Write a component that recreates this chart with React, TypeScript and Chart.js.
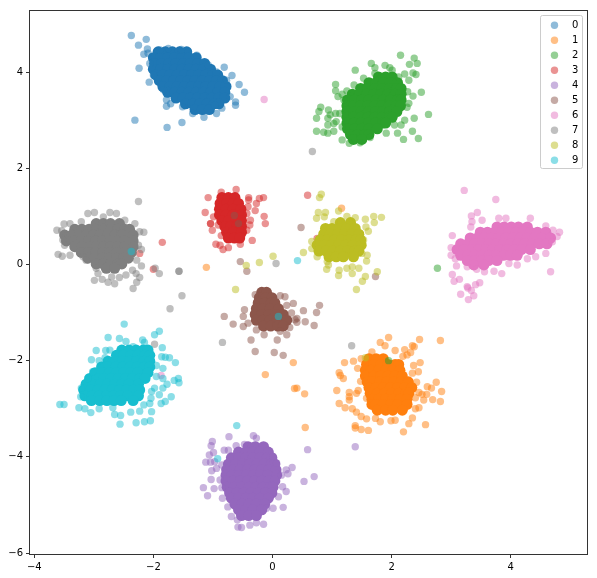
import React, { useEffect, useRef } from "react";
import { Chart, registerables } from "chart.js";

Chart.register(...registerables);

const labels = ["0", "1", "2", "3", "4", "5", "6", "7", "8", "9"];
const colors = ["31,119,180", "255,127,14", "44,160,44", "214,39,40", "148,103,189", "140,86,75", "227,119,194", "127,127,127", "188,189,34", "23,190,207"];
const xTicks = [-4, -2, 0, 2, 4];
const yTicks = [-6, -4, -2, 0, 2, 4];

type P = number[];

const core0: P[] = [
[-1.92,4.42],[-1.80,4.42],[-1.68,4.42],[-1.56,4.42],[-1.44,4.42],
[-2.00,4.30],[-1.88,4.30],[-1.76,4.30],[-1.64,4.30],[-1.52,4.30],[-1.40,4.30],[-1.28,4.30],
[-1.98,4.18],[-1.86,4.18],[-1.74,4.18],[-1.62,4.18],[-1.50,4.18],[-1.38,4.18],[-1.26,4.18],[-1.14,4.18],
[-2.00,4.06],[-1.88,4.06],[-1.76,4.06],[-1.64,4.06],[-1.52,4.06],[-1.40,4.06],[-1.28,4.06],[-1.16,4.06],[-1.04,4.06],
[-1.96,3.94],[-1.84,3.94],[-1.72,3.94],[-1.60,3.94],[-1.48,3.94],[-1.36,3.94],[-1.24,3.94],[-1.12,3.94],[-1.00,3.94],[-0.92,3.94],
[-1.90,3.82],[-1.78,3.82],[-1.66,3.82],[-1.54,3.82],[-1.42,3.82],[-1.30,3.82],[-1.18,3.82],[-1.06,3.82],[-0.94,3.82],[-0.84,3.82],
[-1.84,3.70],[-1.72,3.70],[-1.60,3.70],[-1.48,3.70],[-1.36,3.70],[-1.24,3.70],[-1.12,3.70],[-1.00,3.70],[-0.88,3.70],[-0.78,3.70],
[-1.76,3.58],[-1.64,3.58],[-1.52,3.58],[-1.40,3.58],[-1.28,3.58],[-1.16,3.58],[-1.04,3.58],[-0.92,3.58],[-0.80,3.58],
[-1.62,3.46],[-1.50,3.46],[-1.38,3.46],[-1.26,3.46],[-1.14,3.46],[-1.02,3.46],[-0.90,3.46],[-0.80,3.46],
[-1.46,3.34],[-1.34,3.34],[-1.22,3.34],[-1.10,3.34],[-0.98,3.34],[-0.90,3.34],
[-1.30,3.22],[-1.18,3.22],[-1.06,3.22]];
const edge0: P[] = [[-2.37,4.76],[-2.12,4.68],[-2.25,4.56],[-2.10,4.48],[-2.16,4.37],[-2.09,4.39],[-2.24,4.08],[-2.07,3.79],[-2.31,3.0],[-1.77,2.85],[-1.52,2.95],[-1.15,3.06],[-0.94,3.14],[-1.34,3.14],[-0.81,4.10],[-0.68,3.93],[-0.56,3.74],[-0.47,3.58],[-0.62,3.38],[-0.62,3.31],[-0.71,3.49],[-0.85,3.25],[-0.97,3.31],[-1.78,3.42],[-1.78,3.29],[-1.71,3.34],[-1.51,3.28],[-1.83,3.63],[-0.77,3.83],[-0.94,4.0],[-1.75,4.49],[-1.89,4.46],[-1.53,4.47],[-1.27,4.35],[-1.08,4.15],[-2.0,3.94],[-2.06,4.18]];

const core1: P[] = [
[1.62,-1.96],[1.74,-1.96],[1.86,-1.96],
[1.58,-2.08],[1.70,-2.08],[1.82,-2.08],[1.94,-2.08],[2.06,-2.08],[2.12,-2.08],
[1.56,-2.20],[1.66,-2.20],[1.78,-2.20],[1.90,-2.20],[2.02,-2.20],[2.14,-2.20],
[1.56,-2.32],[1.70,-2.32],[1.82,-2.32],[1.94,-2.32],[2.06,-2.32],[2.18,-2.32],
[1.59,-2.44],[1.68,-2.44],[1.80,-2.44],[1.92,-2.44],[2.04,-2.44],[2.16,-2.44],[2.28,-2.44],
[1.62,-2.56],[1.74,-2.56],[1.86,-2.56],[1.98,-2.56],[2.10,-2.56],[2.22,-2.56],[2.34,-2.56],
[1.64,-2.68],[1.76,-2.68],[1.88,-2.68],[2.00,-2.68],[2.12,-2.68],[2.24,-2.68],[2.29,-2.68],
[1.67,-2.80],[1.78,-2.80],[1.90,-2.80],[2.02,-2.80],[2.14,-2.80],[2.26,-2.80],
[1.67,-2.91],[1.74,-2.91],[1.86,-2.91],[1.98,-2.91],[2.10,-2.91],[2.26,-2.91],
[1.76,-3.03],[1.90,-3.03],[2.02,-3.03],[2.18,-3.03]];
const edge1: P[] = [[1.95,-1.52],[2.47,-1.56],[2.82,-1.58],[1.81,-1.62],[1.89,-1.69],[2.35,-1.69],[2.38,-1.71],[2.06,-1.79],[2.22,-1.77],[2.32,-1.83],[2.26,-1.88],[2.19,-1.91],[1.67,-1.82],[1.49,-1.96],[1.36,-2.01],[1.21,-2.04],[1.43,-2.16],[2.48,-2.04],[2.37,-2.10],[2.45,-2.23],[2.35,-2.26],[1.12,-2.25],[1.14,-2.31],[1.19,-2.37],[1.48,-2.43],[2.42,-2.45],[2.75,-2.45],[2.60,-2.54],[2.67,-2.57],[2.84,-2.64],[2.46,-2.66],[2.51,-2.70],[2.59,-2.70],[2.40,-2.77],[2.54,-2.82],[2.69,-2.81],[2.82,-2.85],[1.08,-2.62],[1.44,-2.62],[1.41,-2.68],[1.29,-2.66],[1.29,-2.75],[1.29,-2.82],[1.12,-2.89],[1.22,-2.98],[1.34,-3.0],[1.41,-3.07],[1.49,-3.16],[1.58,-3.21],[1.73,-3.20],[1.81,-3.27],[1.99,-3.25],[2.06,-3.24],[2.35,-3.19],[2.29,-3.31],[2.57,-3.33],[2.20,-3.48],[1.39,-3.35],[1.39,-3.40],[1.49,-3.43],[1.61,-3.45],[2.40,-3.0],[2.46,-2.98],[1.58,-2.78],[0.54,-2.69],[0.55,-3.39],[0.41,-2.57],[0.35,-2.04],[-0.12,-2.29],[0.37,-2.58],[1.16,1.17],[-1.11,-0.06],[-2.52,-0.01]];

const core2: P[] = [
[1.78,3.90],[1.90,3.90],[2.01,3.90],
[1.62,3.78],[1.74,3.78],[1.86,3.78],[1.98,3.78],[2.10,3.78],
[1.48,3.66],[1.60,3.66],[1.72,3.66],[1.84,3.66],[1.96,3.66],[2.08,3.66],[2.16,3.66],
[1.34,3.54],[1.46,3.54],[1.58,3.54],[1.70,3.54],[1.82,3.54],[1.94,3.54],[2.06,3.54],[2.16,3.54],
[1.26,3.42],[1.38,3.42],[1.50,3.42],[1.62,3.42],[1.74,3.42],[1.86,3.42],[1.98,3.42],[2.10,3.42],[2.16,3.42],
[1.25,3.30],[1.36,3.30],[1.48,3.30],[1.60,3.30],[1.72,3.30],[1.84,3.30],[1.96,3.30],[2.08,3.30],[2.15,3.30],
[1.25,3.18],[1.37,3.18],[1.49,3.18],[1.61,3.18],[1.73,3.18],[1.85,3.18],[1.97,3.18],[2.09,3.18],
[1.25,3.06],[1.36,3.06],[1.48,3.06],[1.60,3.06],[1.72,3.06],[1.84,3.06],[1.96,3.06],[2.01,3.06],
[1.25,2.94],[1.37,2.94],[1.49,2.94],[1.61,2.94],[1.73,2.94],[1.85,2.94],[1.90,2.94],
[1.26,2.82],[1.38,2.82],[1.50,2.82],[1.62,2.82],[1.76,2.82],
[1.31,2.70],[1.43,2.70],[1.55,2.70],[1.62,2.70],
[1.36,2.60],[1.50,2.60]];
const edge2: P[] = [[2.15,4.35],[2.38,4.29],[2.43,4.18],[2.30,4.16],[1.66,4.18],[1.72,4.09],[1.39,4.04],[1.72,3.97],[1.89,4.14],[1.97,4.09],[2.01,4.04],[2.36,3.98],[2.41,3.95],[2.22,3.96],[2.29,3.83],[2.12,3.90],[1.53,3.87],[1.06,3.74],[1.06,3.61],[1.10,3.49],[1.17,3.54],[1.25,3.61],[1.37,3.73],[2.50,3.58],[2.36,3.50],[2.27,3.59],[2.29,3.35],[2.26,3.27],[2.62,3.12],[2.38,3.04],[2.22,3.0],[2.16,2.90],[2.05,2.90],[2.10,2.73],[2.35,2.77],[2.20,2.60],[2.45,2.62],[1.91,2.73],[0.81,3.27],[0.78,3.18],[0.74,3.04],[0.94,3.21],[0.97,3.11],[0.93,3.04],[1.06,3.14],[1.13,3.14],[0.93,2.90],[1.03,2.93],[1.07,2.97],[0.74,2.77],[0.86,2.75],[0.93,2.73],[1.03,2.77],[1.17,2.59],[1.29,2.52],[1.47,2.53],[1.64,2.64],[1.17,2.86],[1.20,3.42],[1.95,-2.0],[2.77,-0.08]];

const core3: P[] = [
[-0.85,1.39],[-0.74,1.39],[-0.63,1.39],
[-0.88,1.27],[-0.77,1.27],[-0.66,1.27],[-0.57,1.27],
[-0.89,1.15],[-0.78,1.15],[-0.66,1.15],[-0.53,1.15],
[-0.89,1.03],[-0.78,1.03],[-0.66,1.03],[-0.52,1.03],
[-0.85,0.91],[-0.74,0.91],[-0.62,0.91],[-0.52,0.91],
[-0.80,0.79],[-0.70,0.79],[-0.60,0.79],[-0.52,0.79],
[-0.77,0.67],[-0.66,0.67],[-0.52,0.67],
[-0.74,0.55],[-0.64,0.55],[-0.55,0.55]];
const edge3: P[] = [[-0.61,1.56],[-0.86,1.50],[-1.08,1.39],[-0.40,1.39],[-0.40,1.34],[-0.22,1.37],[-0.15,1.39],[-0.27,1.27],[-0.41,1.20],[-0.29,1.12],[-0.43,1.06],[-0.14,1.0],[-0.12,0.85],[-0.37,0.92],[-0.38,0.82],[-0.43,0.71],[-0.34,0.50],[-0.54,0.42],[-0.74,0.35],[-0.83,0.31],[-0.88,0.40],[-0.95,0.42],[-0.86,0.60],[-1.01,0.71],[-1.04,0.85],[-1.04,0.85],[-0.91,0.82],[-1.13,1.08],[-0.99,0.99],[-1.85,0.46],[-2.0,-0.10],[-2.23,0.23],[0.59,1.44],[0.75,0.54]];

const core4: P[] = [
[-0.41,-3.79],[-0.29,-3.79],[-0.15,-3.79],
[-0.57,-3.90],[-0.45,-3.90],[-0.33,-3.90],[-0.21,-3.90],[-0.07,-3.90],
[-0.69,-4.02],[-0.57,-4.02],[-0.45,-4.02],[-0.33,-4.02],[-0.21,-4.02],[-0.09,-4.02],[-0.01,-4.02],
[-0.74,-4.15],[-0.62,-4.15],[-0.50,-4.15],[-0.38,-4.15],[-0.26,-4.15],[-0.14,-4.15],[-0.02,-4.15],[0.04,-4.15],
[-0.77,-4.27],[-0.66,-4.27],[-0.54,-4.27],[-0.42,-4.27],[-0.30,-4.27],[-0.18,-4.27],[-0.06,-4.27],[0.06,-4.27],
[-0.78,-4.38],[-0.68,-4.38],[-0.56,-4.38],[-0.44,-4.38],[-0.32,-4.38],[-0.20,-4.38],[-0.08,-4.38],[0.07,-4.38],
[-0.78,-4.50],[-0.66,-4.50],[-0.54,-4.50],[-0.42,-4.50],[-0.30,-4.50],[-0.18,-4.50],[-0.06,-4.50],[0.04,-4.50],
[-0.76,-4.63],[-0.64,-4.63],[-0.52,-4.63],[-0.40,-4.63],[-0.28,-4.63],[-0.16,-4.63],[-0.04,-4.63],[0.01,-4.63],
[-0.72,-4.75],[-0.60,-4.75],[-0.48,-4.75],[-0.36,-4.75],[-0.24,-4.75],[-0.12,-4.75],[-0.01,-4.75],
[-0.69,-4.86],[-0.57,-4.86],[-0.45,-4.86],[-0.33,-4.86],[-0.21,-4.86],[-0.07,-4.86],
[-0.63,-4.98],[-0.51,-4.98],[-0.39,-4.98],[-0.27,-4.98],[-0.13,-4.98],
[-0.57,-5.10],[-0.45,-5.10],[-0.33,-5.10],[-0.18,-5.10],
[-0.52,-5.22],[-0.40,-5.22],[-0.27,-5.22]];
const edge4: P[] = [[-0.32,-3.56],[-0.27,-3.61],[-0.73,-3.58],[-1.01,-3.68],[-1.03,-3.77],[-0.81,-3.86],[-0.74,-3.86],[-0.61,-3.77],[-0.47,-3.74],[-1.06,-3.96],[-0.99,-3.91],[-1.12,-4.11],[-1.04,-4.11],[-0.97,-4.10],[-1.02,-4.29],[-0.94,-4.24],[-0.85,-4.17],[-1.03,-4.47],[-0.88,-4.48],[-1.16,-4.64],[-0.98,-4.66],[-0.85,-4.64],[-1.09,-4.81],[-0.84,-4.86],[-0.75,-5.04],[-0.69,-5.24],[-0.59,-5.31],[-0.58,-5.46],[-0.52,-5.47],[-0.38,-5.42],[-0.27,-5.37],[-0.15,-5.40],[-0.10,-5.07],[0.18,-5.05],[0.01,-5.07],[0.17,-4.62],[0.23,-4.72],[0.10,-4.83],[0.01,-3.99],[0.07,-4.13],[0.23,-4.27],[0.26,-4.35],[0.33,-4.22],[0.15,-4.38],[0.59,-3.85],[1.39,-3.79],[0.53,-4.51],[0.70,-4.41]];

const core5: P[] = [
[-0.18,-0.58],[-0.10,-0.58],
[-0.22,-0.69],[-0.11,-0.69],[-0.01,-0.69],
[-0.24,-0.80],[-0.13,-0.80],[-0.02,-0.80],[0.04,-0.80],
[-0.27,-0.92],[-0.16,-0.92],[-0.04,-0.92],[0.10,-0.92],
[-0.29,-1.04],[-0.18,-1.04],[-0.06,-1.04],[0.06,-1.04],[0.18,-1.04],
[-0.27,-1.16],[-0.16,-1.16],[-0.04,-1.16],[0.08,-1.16],[0.24,-1.16],
[-0.15,-1.28],[-0.03,-1.28],[0.09,-1.28],[0.18,-1.28]];
const edge5: P[] = [[-0.29,-0.63],[0.13,-0.65],[0.21,-0.67],[0.35,-0.81],[0.24,-0.85],[-0.47,-0.94],[-0.49,-1.08],[-0.81,-1.08],[-0.66,-1.24],[-0.49,-1.29],[-0.41,-1.22],[-0.36,-1.57],[0.08,-1.57],[-0.29,-1.81],[0.03,-1.83],[0.18,-1.89],[-0.14,-1.46],[-0.27,-1.36],[0.24,-1.46],[0.13,-1.39],[0.32,-1.01],[0.38,-1.15],[0.29,-1.31],[0.79,-0.85],[0.52,-0.96],[0.74,-1.0],[0.55,-1.19],[0.41,-1.12],[0.41,-1.20],[0.70,-1.27],[-0.54,0.06],[-0.43,-0.14],[0.48,0.77],[1.73,-0.25],[-0.64,1.02],[-0.57,0.85]];

const core6: P[] = [
[3.77,0.78],[3.89,0.78],[4.01,0.78],[4.13,0.78],[4.28,0.78],
[3.49,0.67],[3.61,0.67],[3.73,0.67],[3.85,0.67],[3.97,0.67],[4.09,0.67],[4.21,0.67],[4.33,0.67],[4.45,0.67],[4.59,0.67],
[3.32,0.55],[3.44,0.55],[3.56,0.55],[3.68,0.55],[3.80,0.55],[3.92,0.55],[4.04,0.55],[4.16,0.55],[4.28,0.55],[4.40,0.55],[4.52,0.55],[4.67,0.55],
[3.16,0.43],[3.28,0.43],[3.40,0.43],[3.52,0.43],[3.64,0.43],[3.76,0.43],[3.88,0.43],[4.00,0.43],[4.12,0.43],[4.24,0.43],[4.36,0.43],[4.48,0.43],[4.61,0.43],
[3.10,0.31],[3.22,0.31],[3.34,0.31],[3.46,0.31],[3.58,0.31],[3.70,0.31],[3.82,0.31],[3.94,0.31],[4.06,0.31],[4.18,0.31],[4.33,0.31],
[3.16,0.19],[3.28,0.19],[3.40,0.19],[3.52,0.19],[3.64,0.19],[3.76,0.19],[3.88,0.19],[4.00,0.19],[4.11,0.19],
[3.27,0.08],[3.39,0.08],[3.51,0.08],[3.63,0.08],[3.77,0.08],
[3.38,-0.01],[3.55,-0.01]];
const edge6: P[] = [[3.22,1.54],[3.75,1.35],[3.44,1.08],[3.34,1.01],[3.35,0.89],[3.52,0.92],[3.80,0.96],[3.92,0.96],[4.33,0.96],[3.33,0.78],[4.59,0.80],[4.71,0.71],[4.82,0.67],[4.78,0.58],[4.70,0.47],[3.02,0.60],[3.0,0.35],[3.0,0.19],[3.07,0.12],[3.09,-0.03],[3.27,-0.05],[4.59,0.23],[4.42,0.16],[4.28,0.12],[4.11,-0.01],[3.97,0.02],[3.85,-0.19],[3.72,-0.14],[3.56,-0.15],[3.43,-0.10],[4.67,-0.15],[3.02,-0.21],[3.14,-0.31],[3.05,-0.35],[3.27,-0.46],[3.41,-0.42],[3.48,-0.38],[3.16,-0.62],[3.29,-0.73],[3.38,-0.65],[3.34,-0.54],[3.28,-0.49],[-0.14,3.43],[-1.87,-2.31]];

const core7: P[] = [
[-2.96,0.85],[-2.84,0.85],[-2.72,0.85],[-2.57,0.85],
[-3.32,0.73],[-3.20,0.73],[-3.08,0.73],[-2.96,0.73],[-2.84,0.73],[-2.72,0.73],[-2.60,0.73],[-2.48,0.73],[-2.40,0.73],
[-3.49,0.61],[-3.37,0.61],[-3.25,0.61],[-3.13,0.61],[-3.01,0.61],[-2.89,0.61],[-2.77,0.61],[-2.65,0.61],[-2.53,0.61],[-2.41,0.61],[-2.34,0.61],
[-3.46,0.49],[-3.33,0.49],[-3.21,0.49],[-3.09,0.49],[-2.97,0.49],[-2.85,0.49],[-2.73,0.49],[-2.61,0.49],[-2.49,0.49],[-2.34,0.49],
[-3.32,0.37],[-3.20,0.37],[-3.08,0.37],[-2.96,0.37],[-2.84,0.37],[-2.72,0.37],[-2.60,0.37],[-2.48,0.37],[-2.34,0.37],
[-3.21,0.25],[-3.09,0.25],[-2.97,0.25],[-2.85,0.25],[-2.73,0.25],[-2.61,0.25],[-2.49,0.25],[-2.37,0.25],
[-3.10,0.13],[-2.98,0.13],[-2.86,0.13],[-2.74,0.13],[-2.62,0.13],[-2.50,0.13],[-2.42,0.13],
[-2.96,0.01],[-2.84,0.01],[-2.72,0.01],[-2.60,0.01],[-2.53,0.01],
[-2.79,-0.08],[-2.65,-0.08]];
const edge7: P[] = [[-2.25,1.31],[-3.10,1.06],[-2.99,1.08],[-2.73,1.08],[-2.62,1.06],[-2.84,0.99],[-2.48,0.92],[-2.31,0.85],[-3.50,0.84],[-3.40,0.85],[-3.21,0.89],[-3.62,0.71],[-3.54,0.70],[-2.23,0.68],[-2.16,0.67],[-3.52,0.51],[-3.49,0.40],[-3.60,0.21],[-3.53,0.17],[-3.40,0.19],[-3.18,0.16],[-3.13,0.09],[-2.20,0.31],[-2.25,0.40],[-2.20,-0.03],[-2.28,0.09],[-2.29,-0.19],[-2.23,-0.27],[-2.35,-0.12],[-2.46,-0.22],[-2.57,-0.27],[-2.65,-0.40],[-2.76,-0.37],[-2.86,-0.31],[-2.99,-0.33],[-2.93,-0.19],[-2.96,-0.08],[-2.70,-0.26],[-2.28,-0.37],[-2.34,-0.50],[-1.97,-0.08],[-1.90,-0.19],[-1.57,-0.14],[-1.57,-0.14],[0.06,0.02],[0.67,2.35],[-1.52,-0.65],[-1.72,-0.92],[-1.98,-1.66],[-0.84,-1.62],[1.33,-1.69]];

const core8: P[] = [
[1.14,0.87],[1.31,0.87],
[0.89,0.75],[1.00,0.75],[1.12,0.75],[1.24,0.75],[1.39,0.75],
[0.86,0.63],[0.97,0.63],[1.09,0.63],[1.21,0.63],[1.33,0.63],[1.45,0.63],
[0.80,0.51],[0.92,0.51],[1.04,0.51],[1.16,0.51],[1.28,0.51],[1.40,0.51],[1.48,0.51],
[0.75,0.40],[0.87,0.40],[0.99,0.40],[1.11,0.40],[1.23,0.40],[1.35,0.40],[1.49,0.40],
[0.78,0.28],[0.90,0.28],[1.02,0.28],[1.14,0.28],[1.26,0.28],[1.38,0.28],[1.45,0.28],
[0.95,0.16],[1.07,0.16],[1.19,0.16],[1.36,0.16]];
const edge8: P[] = [[0.82,1.46],[0.79,1.39],[0.77,1.08],[0.89,1.08],[1.11,1.11],[0.74,0.96],[0.87,0.99],[1.03,0.89],[1.25,1.0],[1.39,0.97],[1.56,0.94],[1.70,1.0],[1.83,0.98],[1.71,0.87],[1.57,0.78],[1.61,0.69],[1.53,0.51],[0.66,0.48],[0.66,0.33],[0.52,0.25],[1.59,0.19],[1.50,0.23],[1.58,0.07],[0.75,0.16],[0.92,0.06],[0.94,-0.01],[0.91,-0.10],[1.12,-0.12],[1.11,-0.23],[1.25,-0.08],[1.34,-0.05],[1.45,-0.08],[1.34,-0.19],[1.56,-0.25],[1.76,-0.15],[1.51,-0.35],[1.41,-0.52],[-0.44,-0.02],[-0.22,0.04],[0.01,0.17],[-0.62,-0.52],[1.56,-1.94]];

const core9: P[] = [
[-2.53,-1.78],[-2.41,-1.78],[-2.29,-1.78],[-2.17,-1.78],[-2.09,-1.78],
[-2.62,-1.89],[-2.50,-1.89],[-2.38,-1.89],[-2.26,-1.89],[-2.14,-1.89],[-2.06,-1.89],
[-2.76,-2.01],[-2.64,-2.01],[-2.52,-2.01],[-2.40,-2.01],[-2.28,-2.01],[-2.16,-2.01],[-2.06,-2.01],
[-2.87,-2.13],[-2.75,-2.13],[-2.63,-2.13],[-2.51,-2.13],[-2.39,-2.13],[-2.27,-2.13],[-2.15,-2.13],[-2.06,-2.13],
[-2.98,-2.25],[-2.86,-2.25],[-2.74,-2.25],[-2.62,-2.25],[-2.50,-2.25],[-2.38,-2.25],[-2.26,-2.25],[-2.09,-2.25],
[-3.07,-2.37],[-2.95,-2.37],[-2.83,-2.37],[-2.71,-2.37],[-2.59,-2.37],[-2.47,-2.37],[-2.35,-2.37],[-2.23,-2.37],[-2.14,-2.37],
[-3.13,-2.49],[-3.01,-2.49],[-2.89,-2.49],[-2.77,-2.49],[-2.65,-2.49],[-2.53,-2.49],[-2.41,-2.49],[-2.25,-2.49],
[-3.17,-2.61],[-3.05,-2.61],[-2.93,-2.61],[-2.81,-2.61],[-2.69,-2.61],[-2.57,-2.61],[-2.45,-2.61],[-2.33,-2.61],[-2.23,-2.61],
[-3.15,-2.73],[-3.03,-2.73],[-2.91,-2.73],[-2.79,-2.73],[-2.67,-2.73],[-2.55,-2.73],[-2.43,-2.73],[-2.25,-2.73],
[-3.04,-2.83],[-2.90,-2.83],[-2.78,-2.83],[-2.66,-2.83],[-2.54,-2.83],[-2.34,-2.83]];
const edge9: P[] = [[-2.49,-1.24],[-1.90,-1.39],[-1.98,-1.46],[-2.76,-1.52],[-2.57,-1.54],[-2.46,-1.60],[-2.18,-1.57],[-2.15,-1.62],[-1.85,-1.73],[-2.34,-1.71],[-2.96,-1.79],[-2.80,-1.79],[-2.73,-1.78],[-3.04,-1.98],[-2.91,-2.0],[-2.81,-1.94],[-1.86,-1.92],[-1.80,-1.93],[-1.73,-1.94],[-1.63,-2.04],[-1.95,-2.10],[-1.84,-2.16],[-3.02,-2.23],[-3.10,-2.37],[-1.84,-2.37],[-1.95,-2.33],[-1.77,-2.49],[-1.65,-2.41],[-1.58,-2.37],[-1.57,-2.46],[-1.84,-2.57],[-1.98,-2.57],[-2.03,-2.64],[-1.90,-2.71],[-1.70,-2.75],[-2.04,-2.78],[-2.06,-2.89],[-1.87,-2.89],[-1.80,-2.85],[-2.16,-2.92],[-2.03,-3.06],[-2.23,-3.05],[-2.38,-3.07],[-2.65,-3.12],[-2.55,-3.14],[-2.68,-2.98],[-2.91,-3.0],[-3.05,-3.08],[-3.25,-2.98],[-3.15,-3.0],[-3.57,-2.91],[-3.50,-2.91],[-2.56,-3.32],[-2.29,-3.29],[-2.15,-3.27],[-2.05,-3.25],[-3.21,-2.57],[-3.22,-2.75],[-2.37,0.27],[0.42,0.08],[0.10,-1.08],[-0.92,-4.04],[-0.60,-3.35]];

const cores = [core0, core1, core2, core3, core4, core5, core6, core7, core8, core9];
const edges = [edge0, edge1, edge2, edge3, edge4, edge5, edge6, edge7, edge8, edge9];

const toPoints = (list: P[]) => list.map(([x, y]) => ({ x, y }));

const frameAndLegend = {
  id: "frameAndLegend",
  afterDraw(chart: any) {
    const { ctx, chartArea: a } = chart;
    ctx.save();
    ctx.strokeStyle = "#333";
    ctx.lineWidth = 1;
    ctx.strokeRect(a.left, a.top, a.right - a.left, a.bottom - a.top);
    const bx = a.right - 47, by = a.top + 5, bw = 42, bh = 153;
    ctx.fillStyle = "rgba(255,255,255,0.8)";
    ctx.strokeStyle = "#ccc";
    ctx.beginPath();
    ctx.roundRect(bx, by, bw, bh, 2);
    ctx.fill();
    ctx.stroke();
    ctx.font = "10px 'DejaVu Sans'";
    ctx.textAlign = "left";
    ctx.textBaseline = "middle";
    labels.forEach((label, i) => {
      const y = by + 9.7 + i * 15;
      ctx.fillStyle = `rgba(${colors[i]},0.5)`;
      ctx.beginPath();
      ctx.arc(bx + 14, y, 3.7, 0, Math.PI * 2);
      ctx.fill();
      ctx.fillStyle = "#000";
      ctx.fillText(label, bx + 31.5, y);
    });
    ctx.restore();
  },
};

const tickLabel = (v: number | string) => String(v).replace("-", "\u2212");

export default function App() {
  const ref = useRef<HTMLCanvasElement>(null);
  useEffect(() => {
    const datasets: any[] = [];
    labels.forEach((label, i) => {
      datasets.push({
        label: label + " core",
        data: toPoints(cores[i]),
        backgroundColor: `rgb(${colors[i]})`,
        pointRadius: 5.5,
        pointBorderWidth: 0,
        order: 100 - 2 * i,
      });
      datasets.push({
        label,
        data: toPoints(edges[i]),
        backgroundColor: `rgba(${colors[i]},0.5)`,
        pointRadius: 3.7,
        pointBorderWidth: 0,
        order: 99 - 2 * i,
      });
    });
    const tickStyle = { color: "#000", font: { family: "'DejaVu Sans'", size: 10 }, maxRotation: 0, autoSkip: false };
    const gridStyle = { drawOnChartArea: false, drawTicks: true, tickLength: 3.5, tickColor: "#333", tickWidth: 1 };
    const chart = new Chart(ref.current!, {
      type: "scatter",
      data: { datasets },
      plugins: [frameAndLegend],
      options: {
        animation: false,
        responsive: false,
        layout: { padding: { left: 0, top: 10.5, right: 9.5, bottom: 0 } },
        plugins: { legend: { display: false }, tooltip: { enabled: false } },
        scales: {
          x: {
            type: "linear",
            min: -4.08,
            max: 5.29,
            grid: gridStyle,
            border: { display: false },
            ticks: { ...tickStyle, padding: 3, callback: tickLabel },
            afterBuildTicks(s: any) { s.ticks = xTicks.map((value) => ({ value })); },
            afterFit(s: any) { s.height = 23.5; },
          },
          y: {
            type: "linear",
            min: -6.03,
            max: 5.28,
            grid: gridStyle,
            border: { display: false },
            ticks: { ...tickStyle, padding: 3, callback: tickLabel },
            afterBuildTicks(s: any) { s.ticks = yTicks.map((value) => ({ value })); },
            afterFit(s: any) { s.width = 29.5; },
          },
        },
      },
    } as any);
    return () => chart.destroy();
  }, []);
  return (
    <div style={{ position: "absolute", left: 0, top: 0 }}>
      <canvas ref={ref} width={597} height={578} style={{ display: "block" }} />
    </div>
  );
}
